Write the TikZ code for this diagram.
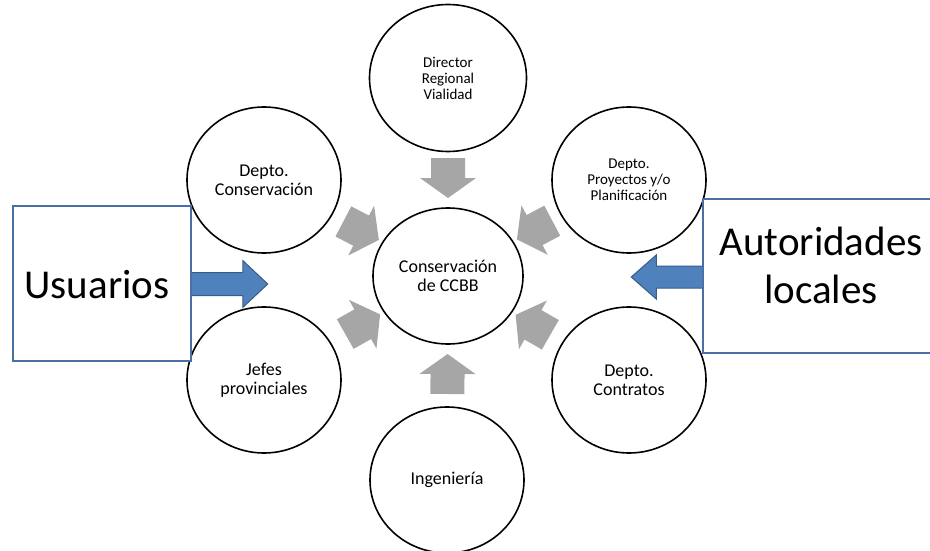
\documentclass[tikz,border=0pt]{standalone}
\usepackage{fontspec}
\setmainfont{Carlito}
\usetikzlibrary{shapes.geometric,calc}
\definecolor{boxblue}{HTML}{4A6FA5}
\definecolor{arrblue}{HTML}{4F81BD}
\definecolor{arrblueedge}{HTML}{385D8A}
\definecolor{grayarr}{HTML}{A6A6A6}
\tikzset{
  circ/.style={ellipse, draw=black, line width=1.6pt, minimum width=154pt, minimum height=146pt,
    inner sep=0pt, align=center, font=\fontsize{18}{19}\selectfont},
  smalltext/.style={font=\fontsize{15}{16}\selectfont},
  bigbox/.style={draw=boxblue, line width=1.5pt, fill=white, inner sep=0pt},
  bigtext/.style={font=\fontsize{41}{48}\selectfont, align=center, inner sep=0pt},
  grayarrow/.style={fill=grayarr, draw=none},
  bluearrow/.style={fill=arrblue, draw=arrblueedge, line width=1pt, line join=miter},
}
\begin{document}
\begin{tikzpicture}[x=1pt,y=-1pt]
\useasboundingbox (0,0) rectangle (930,551);
\fill[white] (0,0) rectangle (930,551);

% circles
\node[circ, minimum width=150pt, minimum height=136pt] (main) at (448,276) {Conservación\\de CCBB};
\node[circ, smalltext, minimum width=157pt, minimum height=147pt] (dir) at (448,78) {Director\\Regional\\Vialidad};
\node[circ] (cons) at (264,180) {Depto.\\Conservación};
\node[circ, smalltext] (proy) at (629,180) {Depto.\\Proyectos y/o\\Planificación};
\node[circ] (jefes) at (264,380) {Jefes\\provinciales};
\node[circ] (contr) at (629,380) {Depto.\\Contratos};
\node[circ] (ing) at (447,480) {Ingeniería};

% gray block arrows pointing to the centre
\foreach \s in {dir,cons,proy,jefes,contr,ing}{
  \coordinate (tip-\s) at ($(main.center)!78pt!(\s.center)$);
  \coordinate (hb-\s) at ($(main.center)!98pt!(\s.center)$);
  \coordinate (bk-\s) at ($(main.center)!118pt!(\s.center)$);
  \fill[grayarrow] (tip-\s)
    -- ($(hb-\s)!28pt!90:(main.center)$)
    -- ($(hb-\s)!17pt!90:(main.center)$)
    -- ($(bk-\s)!17pt!90:(main.center)$)
    -- ($(bk-\s)!17pt!-90:(main.center)$)
    -- ($(hb-\s)!17pt!-90:(main.center)$)
    -- ($(hb-\s)!28pt!-90:(main.center)$)
    -- cycle;
}

% side boxes
\node[bigbox, minimum width=178pt, minimum height=155pt] (usu) at (102,283.5) {};
\node[bigtext, anchor=base] (usut) at (97,298) {Usuarios};
\node[bigbox, minimum width=237pt, minimum height=154pt] (aut) at (821.5,276) {};
\node[bigtext] (autt) at (821,265) {Autoridades\\locales};

% blue block arrows
\draw[bluearrow] ($(usu.east)+(0,-11)$) -- ($(usu.east)+(51,-11)$) -- ($(usu.east)+(51,-23)$)
  -- ($(usu.east)+(76,0.5)$) -- ($(usu.east)+(51,24)$) -- ($(usu.east)+(51,12)$)
  -- ($(usu.east)+(0,12)$);
\draw[bluearrow] ($(aut.west)+(0,-10)$) -- ($(aut.west)+(-46,-10)$) -- ($(aut.west)+(-46,-21)$)
  -- ($(aut.west)+(-71,1)$) -- ($(aut.west)+(-46,23)$) -- ($(aut.west)+(-46,12)$)
  -- ($(aut.west)+(0,12)$);
\end{tikzpicture}
\end{document}
